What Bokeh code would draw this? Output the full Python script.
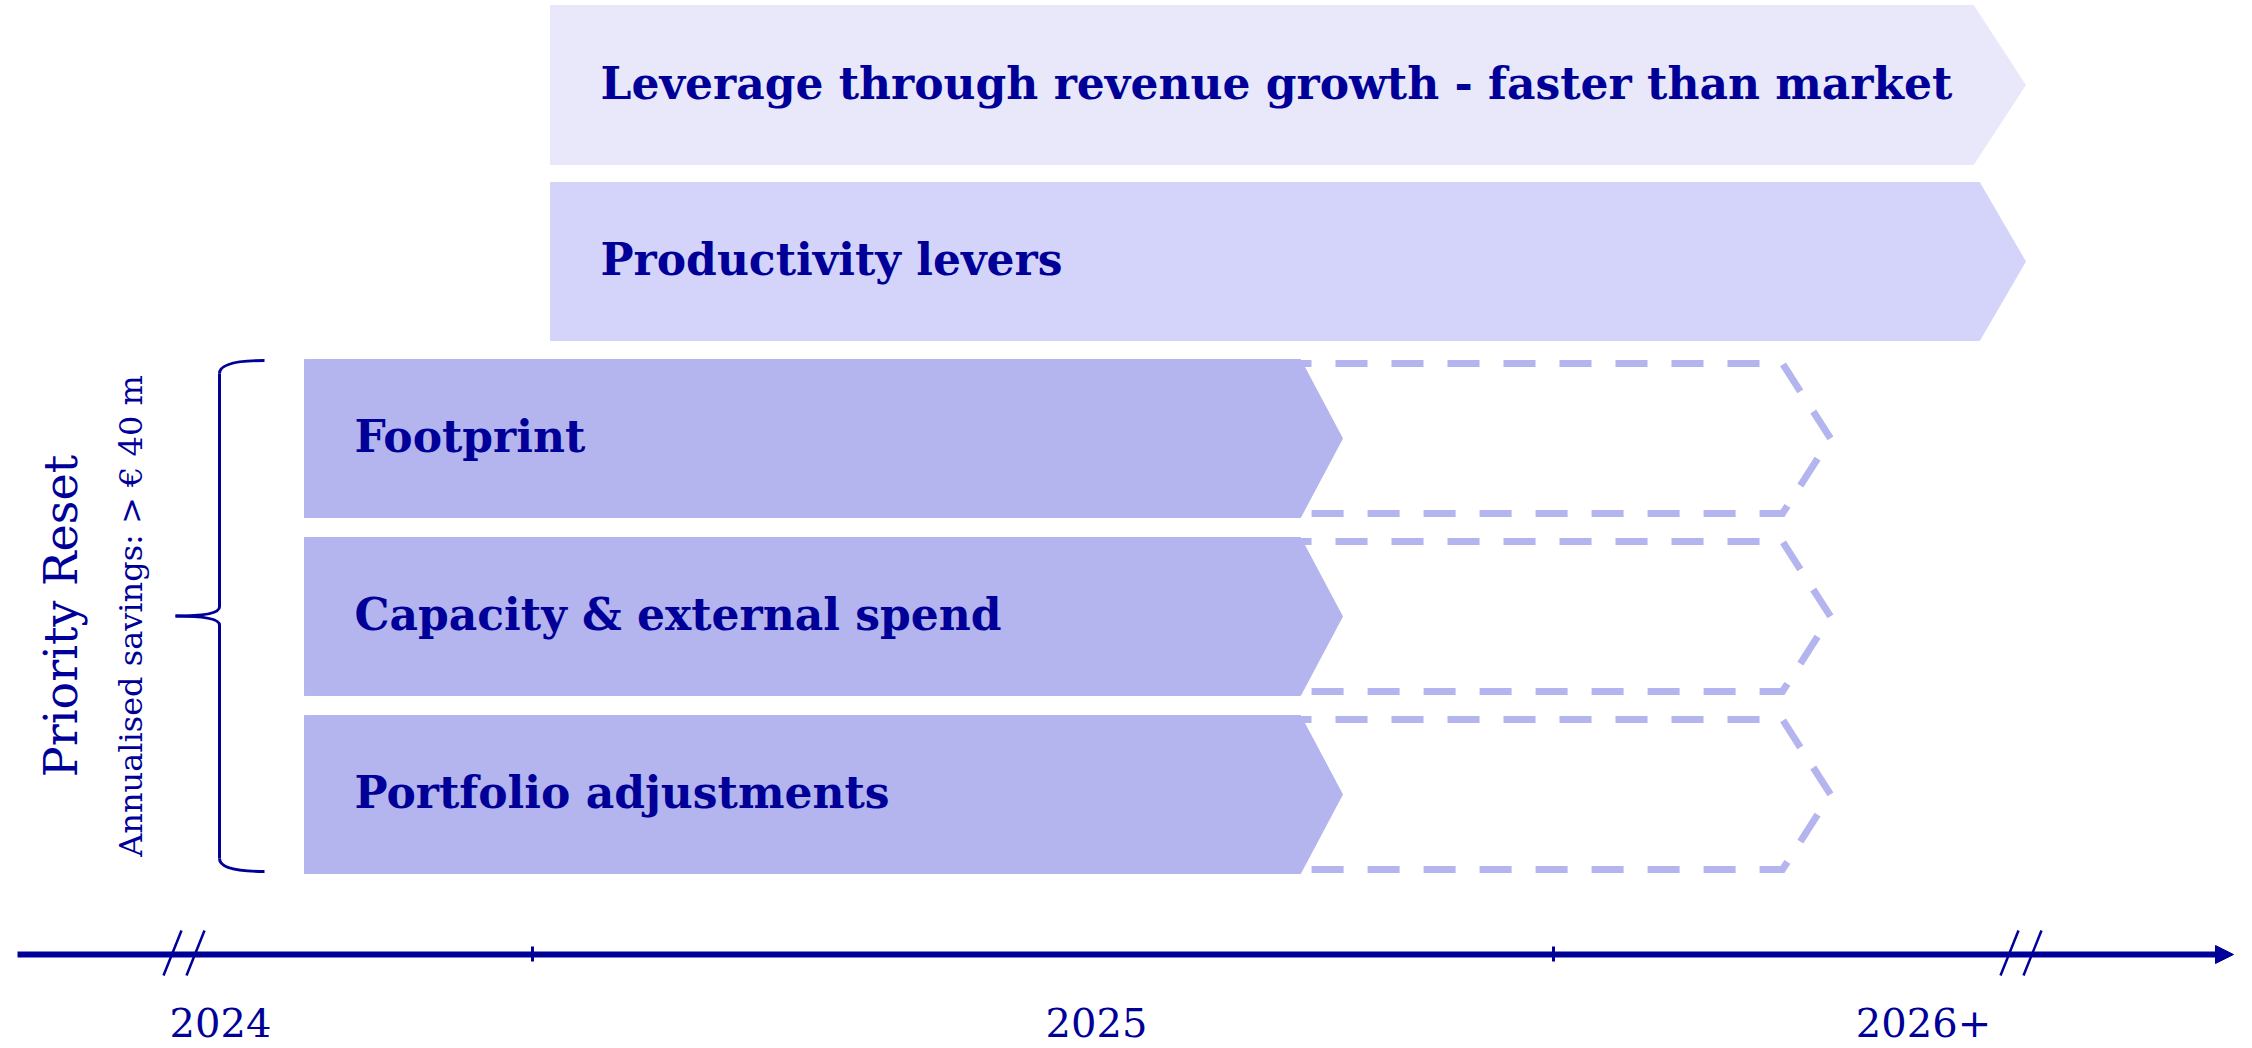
import math
from bokeh.plotting import figure
from bokeh.models import ColumnDataSource, Range1d
from bokeh.core.properties import value
from bokeh.embed import file_html
from bokeh.resources import INLINE

# ---------------- data ----------------
lever_labels = [
    "Leverage through revenue growth - faster than market",
    "Productivity levers",
    "Footprint",
    "Capacity & external spend",
    "Portfolio adjustments",
]
# horizontal extent of each lever on the timeline (start, arrow tip)
lever_start = [550, 550, 304, 304, 304]
lever_end = [2025, 2025, 1342, 1342, 1342]
# rows (top / bottom)
lever_top = [5, 182, 359, 537, 715]
lever_bottom = [164, 340, 517, 695, 873]

# continuation (dashed) of the Priority Reset levers
extension_rows = [2, 3, 4]
extension_start = [1055, 1055, 1055]
extension_end = [1830, 1830, 1830]

year_labels = ["2024", "2025", "2026+"]
year_pos = [220, 1096, 1923]
tick_pos = [532, 1553]
break_pos = [183, 2020]
axis_start = 17
axis_end = 2233

group_title = "Priority Reset"
group_subtitle = "Annualised savings: > \u20ac 40 m"

# ---------------- style ----------------
TEXT = "#000099"
FILLS = ["#E8E8FA", "#D4D4FA", "#B4B4EE", "#B4B4EE", "#B4B4EE"]
DASH = "#B4B4EE"
tip_depth = [52, 46, 42, 42, 42]
ext_depth = 48
ext_inset = 4
label_pad = 50
SERIF = "DejaVu Serif"
BASE_SHIFT = 0.4  # em offset of the rendered alphabetic baseline

W, H = 2252, 1048
p = figure(width=W, height=H, x_range=Range1d(0, W), y_range=Range1d(H, 0),
           x_axis_type=None, y_axis_type=None, toolbar_location=None,
           output_backend="svg", min_border=0, outline_line_color=None,
           background_fill_color="white", border_fill_color="white")
p.grid.visible = False

# dashed extensions (behind)
exs, eys = [], []
for r, s, e in zip(extension_rows, extension_start, extension_end):
    t = lever_top[r] + ext_inset
    b = lever_bottom[r] - ext_inset
    m = (t + b) / 2
    sh = e - ext_depth
    exs.append([s, sh, e, sh, s])
    eys.append([t, t, m, b, b])
p.patches(exs, eys, fill_color=None, line_color=DASH, line_width=7,
          line_dash="32 24", line_join="miter")

# filled chevrons
xs, ys = [], []
for s, e, t, b, d in zip(lever_start, lever_end, lever_top, lever_bottom, tip_depth):
    m = (t + b) / 2
    xs.append([s, e - d, e, e - d, s])
    ys.append([t, t, m, b, b])
src = ColumnDataSource(dict(xs=xs, ys=ys, fill=FILLS))
p.patches("xs", "ys", source=src, fill_color="fill", line_color="fill", line_width=1)

# lever labels
fs = 44
lx = [s + label_pad for s in lever_start]
ly = [(t + b) / 2 + 16 - BASE_SHIFT * fs for t, b in zip(lever_top, lever_bottom)]
p.text(x=lx, y=ly, text=lever_labels, text_font=value(SERIF), text_font_style="bold",
       text_font_size=f"{fs}px", text_color=TEXT, text_align="left",
       text_baseline="alphabetic")

# brace spanning the Priority Reset rows
bt = lever_top[2] + 1
bb = lever_bottom[4] - 2
bm = (bt + bb) / 2
bx, btip, bend = 219, 175, 264
p.quadratic(x0=[bend, bx, btip, bx], y0=[bt, bm - 9, bm, bb - 13],
            x1=[bx, btip, bx, bend], y1=[bt + 13, bm, bm + 9, bb],
            cx=[bx, bx, bx, bx], cy=[bt, bm, bm, bb],
            line_color=TEXT, line_width=3)
p.segment(x0=[bx, bx], y0=[bt + 13, bm + 9], x1=[bx, bx], y1=[bm - 9, bb - 13],
          line_color=TEXT, line_width=3)

# rotated group titles
p.text(x=[79 - BASE_SHIFT * 46], y=[bm], text=[group_title], angle=math.pi / 2,
       text_font=value(SERIF), text_font_size="46px", text_color=TEXT,
       text_align="center", text_baseline="alphabetic")
p.text(x=[143 - BASE_SHIFT * 32], y=[bm], text=[group_subtitle], angle=math.pi / 2,
       text_font=value(SERIF), text_font_size="32px", text_color=TEXT,
       text_align="center", text_baseline="alphabetic")

# timeline axis
ay = 954
head = 18
p.segment(x0=[axis_start], y0=[ay], x1=[axis_end - head], y1=[ay],
          line_color=TEXT, line_width=6)
p.patch([axis_end - head, axis_end, axis_end - head], [ay - 9, ay, ay + 9],
        fill_color=TEXT, line_color=TEXT, line_width=1)
p.segment(x0=tick_pos, y0=[ay - 8] * len(tick_pos), x1=tick_pos, y1=[ay + 7] * len(tick_pos),
          line_color=TEXT, line_width=3)
bx0, bx1, by0, by1 = [], [], [], []
for c in break_pos:
    for off in (-11, 12):
        bx0.append(c + off - 9)
        bx1.append(c + off + 9)
        by0.append(ay + 21)
        by1.append(ay - 24)
p.segment(x0=bx0, y0=by0, x1=bx1, y1=by1, line_color=TEXT, line_width=2.5)

yfs = 40
p.text(x=year_pos, y=[1038 - BASE_SHIFT * yfs] * len(year_pos), text=year_labels,
       text_font=value(SERIF), text_font_size=f"{yfs}px", text_color=TEXT,
       text_align="center", text_baseline="alphabetic")

open("out.html", "w").write(file_html(p, INLINE))
